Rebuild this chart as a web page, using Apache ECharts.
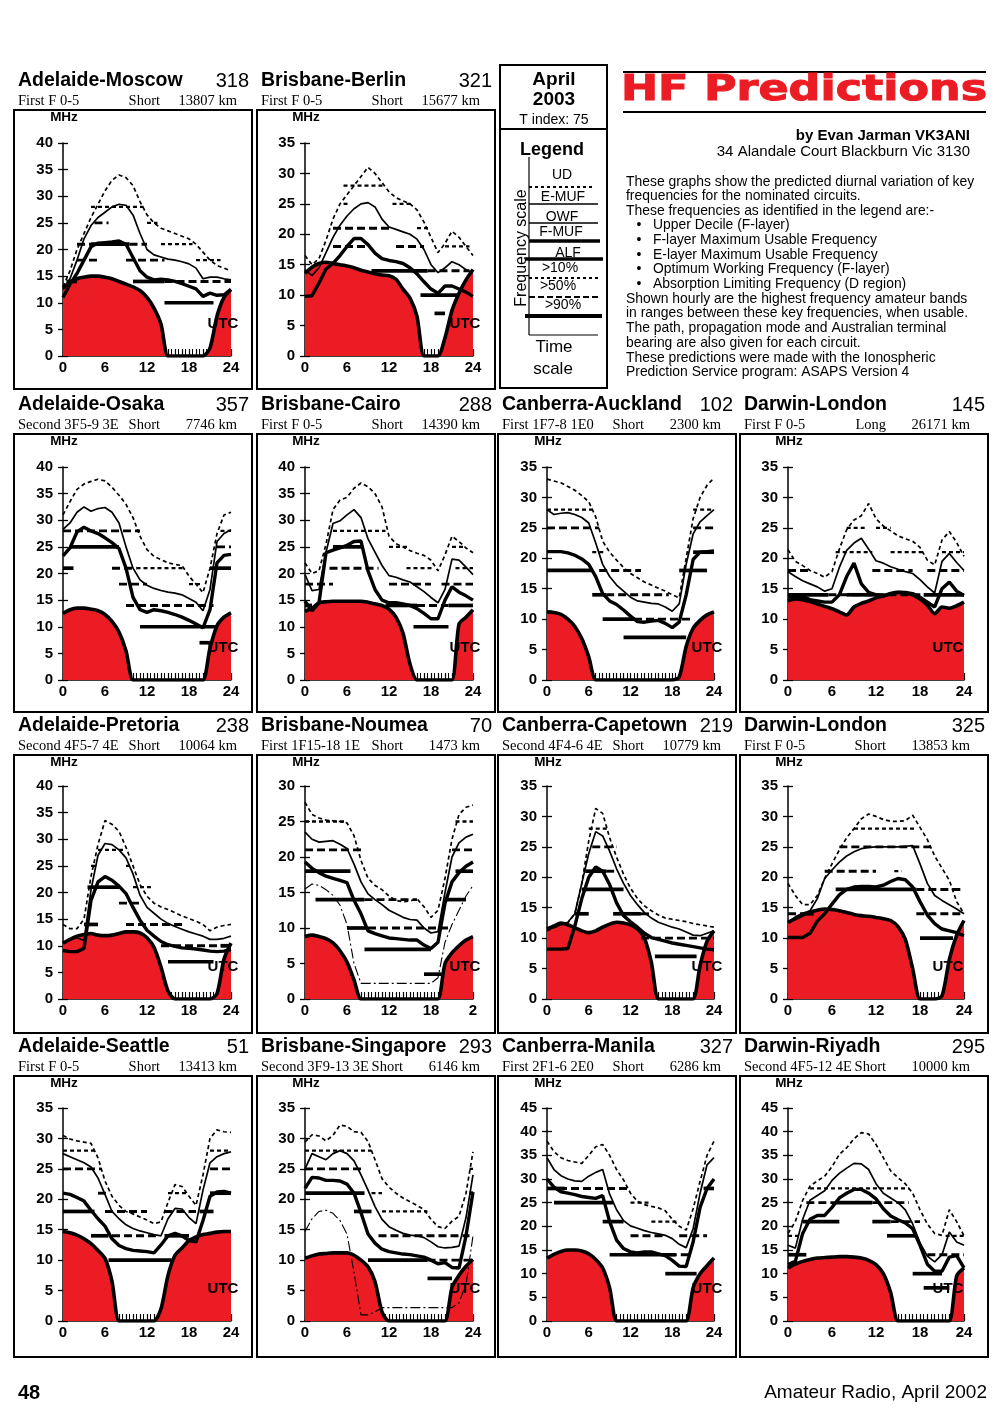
<!DOCTYPE html>
<html>
<head>
<meta charset="utf-8">
<script src="https://cdn.jsdelivr.net/npm/echarts@6/dist/echarts.min.js"></script>
<style>
html, body { margin: 0; padding: 0; background: #fff; }
#page { width: 1000px; height: 1410px; }
</style>
</head>
<body>
<div id="page"></div>
<script>
// hours of the day (UTC)
var hours = [0,1,2,3,4,5,6,7,8,9,10,11,12,13,14,15,16,17,18,19,20,21,22,23,24];

// band runs are [fromHour, toHour, MHz]

// Adelaide-Moscow
var amUD  = [13,16,20,23,26,28.5,31,33,34,33.5,32,29,26.5,25,24,23.5,23,22.5,22,21,19.5,18,17,16.5,16];
var amMUF = [12.5,14.5,18,22,24.5,26,27,28,28.5,28.3,26.5,23,20,19,18.6,18.2,18,17.7,17.3,16.5,14.5,14.8,14.8,14.5,14.3];
var amOWF = [11,13.5,15.5,18,20.5,21.2,21.3,21.4,21.6,21,18.5,16,14.8,14.3,14.4,14.3,14,13.6,13.1,12.6,11.2,11.8,11.4,11.5,12.5];
var amALF = [12.8,13.8,14.5,14.8,15,15,14.8,14.5,14,13.5,13,12.3,11,9,6,0,0,0,0,0,0,1.5,7.5,11,12.5];
var amThick = [[0.5,2,14],[4,9.5,21],[10,14.5,14],[14.5,21.5,10]];
var amDash  = [[2,4,21],[9.5,12,21],[2,5,18],[9,14.5,18],[4.5,6.5,25],[14.5,24,14]];
var amDot   = [[4,11.5,28],[12,13.5,25],[14,18.5,21],[19,22.5,18]];

// Brisbane-Berlin
var bbUD  = [16.5,15,16,19,22.5,25,26.5,28,29.5,31,30,28.5,27,26,25.5,25,24,22,19.5,17,18.5,20.5,19.5,18,16.5];
var bbMUF = [14.2,13.2,14.5,17,19.5,21.5,23,24.2,25,25.2,24.5,22.5,21.2,20.8,20.4,20,19.2,17.5,15,13.7,14.5,15.5,15,14.2,13.6];
var bbOWF = [9.8,9.9,12,14.3,15.2,16.5,18,19.3,19.3,18.3,16.9,16,15.7,15.5,15.2,14.5,13.5,12.2,11,10.3,11.5,11.5,11,10.5,9.8];
var bbALF = [13.6,14.6,15.2,15.4,15.2,15,14.8,14.5,14.1,13.8,13.5,13.3,13.2,12.6,11,9.5,6.5,0,0,0,3,7.5,10.3,12.5,14.2];
var bbThick = [[9.5,17.5,14],[16.5,22,10],[18.5,20,7]];
var bbDash  = [[4,12.5,21],[4,9,18],[13,17,18],[17.5,23.5,14]];
var bbDot   = [[5.5,11.5,28],[5.5,6.5,25],[12.5,15.5,25],[16,18,21],[20,23.5,18]];

// Adelaide-Osaka
var aoUD  = [31,33.5,35.8,36.8,37.3,37.7,37.4,36.2,34.7,33,30.5,27,24.5,23.2,22.6,22,21.7,21.5,19.5,18,16.4,21,27.5,31,31.5];
var aoMUF = [28.3,29.5,31.5,32.5,31.7,32.2,32.4,31.5,29.5,25,21,18.8,17.8,17.2,16.8,16.5,16.3,16,15.3,14.6,13,17,26,27.5,28.2];
var aoOWF = [23.3,24.8,27.8,28.7,28,27.5,26.7,25.8,24.7,21,15.5,13.2,12.7,13.2,13,12.7,12.3,11.8,11.2,10.5,9.8,13.2,22,23.4,23.6];
var aoALF = [12.5,13.2,13.5,13.5,13.3,13,12.3,11,9,5.5,0,0,0,0,0,0,0,0,0,0,0,6,10.2,11.8,12.6];
var aoThick = [[0,1.5,21],[1,8,25],[11,22,10],[19.5,21,7],[21,24,21]];
var aoDash  = [[0,11,28],[7,10.5,21],[8,12,18],[9,21.5,14],[22,24,25]];
var aoDot   = [[10.5,17.5,21],[18,20,18],[22.5,24,28]];

// Brisbane-Cairo
var bcUD  = [22,20,20.5,25.5,32,33.8,34.3,36,37,36.3,35,32.5,27,25.6,25,24.3,23.8,23.4,22.5,20.5,23.5,27,26,24.8,23.9];
var bcMUF = [19.8,16.8,17,24,29.4,29.9,31,32,30.5,26.5,24,21.5,19.6,19.3,18.8,18.4,17.5,16.6,15.5,14.5,17,22.7,22.5,21.2,19.8];
var bcOWF = [14.8,13,14.5,23.9,24.4,24.8,25.3,26,26.1,20.5,17,15,14.5,14.5,14.3,14,13.4,12.5,11.5,11.5,15,17.5,16.5,15.8,15];
var bcALF = [12.9,13.5,14.5,14.7,14.8,14.8,14.8,14.8,14.8,14.6,14.3,14,13.3,11.8,8.8,3,0,0,0,0,0,0,10.5,11.8,13.2];
var bcThick = [[0,1,14],[4,8,25],[11.5,16,14],[20.5,24,14],[15.5,20.5,10]];
var bcDash  = [[3.5,10.5,21],[0,4,18],[12,18,18],[16,20.5,14],[19.5,24,18]];
var bcDot   = [[4,11.5,28],[12,15,25],[14.5,18.5,21],[21,23,25],[21.5,24,21]];

// Canberra-Auckland
var caUD  = [33,32.7,32.4,31.8,31.2,30.3,29.3,26.8,22.8,21,19.7,18.5,17.5,16.8,16.1,15.6,15.1,14.6,14,13.5,20,26.5,30,32,33.2];
var caMUF = [28,27.2,27.4,27.5,27.2,26.7,25.8,22.5,19,17,15.6,14.6,13.6,13,12.8,12.6,12.5,12,11.3,12.5,19,24,26,27,28];
var caOWF = [21.1,21.1,21.1,20.9,20.5,19.9,19,17,14.2,13,12.4,11.5,10.5,9.6,9.5,9.7,9.8,9.3,8.6,9.5,14,19.8,21,21.1,21.2];
var caALF = [11.2,11.1,10.8,10,8.8,6.8,3.8,0,0,0,0,0,0,0,0,0,0,0,0,0.5,5.5,8.5,9.8,10.7,11.2];
var caThick = [[0,6.5,18],[6.5,8.5,14],[8,12.5,10],[11,20,7],[19,23,18],[21,24,21]];
var caDash  = [[0,7.5,25],[7.5,13.5,18],[8.5,17.5,14],[12.5,21,10],[21,24,25]];
var caDot   = [[0,7,28],[6.5,8.5,21],[21,24,28]];

// Darwin-London (long path)
var dlUD  = [21.4,19.5,18.8,18,17.5,16.9,17.8,21.5,24.7,26.3,27,29,26.5,25.3,24.5,23.7,23.2,22.8,21.8,19.7,18.9,23,24.4,22.6,20.3];
var dlMUF = [17.8,17,16.3,15.8,15.3,14.6,15,18.5,21.3,22.5,23.3,21.5,19.6,19.2,18.6,18.2,17.8,17.5,16.5,15.3,14.3,19.5,20.8,19.3,18];
var dlOWF = [13.6,13.8,13.7,13.2,13,12.8,12.8,14,17,19.2,15.8,14.4,14,13.9,14.1,14.4,14.4,14.2,13.6,12.8,12,15,16.1,14.6,13.9];
var dlALF = [13,13.3,13.2,12.9,12.5,12.1,11.7,11.2,10.7,12,12.6,13,13.5,13.8,14.2,14.4,14.3,14,13.3,12.3,10.9,12,11.8,12.2,12.8];
var dlThick = [[0,5.5,14],[8,12,14],[18.5,24,14]];
var dlDash  = [[5.5,18.5,14],[11.5,17,18],[19,24,18],[0,3,18]];
var dlDot   = [[8,10.5,25],[6.5,11.5,21],[14,18.5,21],[21,24,21],[12,14,25]];

// Adelaide-Pretoria
var apUD  = [14,13.2,13.2,15,23,29,33.5,32.8,31.5,28.5,25,21.5,19.3,18,17.3,16.8,16.2,15.6,15.1,14.6,14,12.8,13.5,13.8,14];
var apMUF = [10.5,11.1,11.5,11,20.5,27,29.2,29,28,26.5,23.5,19.5,17.2,16.1,15,14.2,13.6,13.1,12.6,12.2,11.8,11.2,11.2,11.4,11.8];
var apOWF = [9.1,8.9,8.9,9.5,18.5,22,23,22.3,21.2,19.8,17.2,14.8,12.9,11.8,10.8,10.2,9.9,9.6,9.5,9.4,9.2,9,8.9,9,9.3];
var apALF = [10.5,11.2,11.8,12.1,12.3,12,11.9,12,12.3,12.6,12.6,12.4,11.5,9.7,6,1.5,0,0,0,0,0,0,1,7.5,10.5];
var apThick = [[3.5,8,21],[3,5,14],[15,21.5,7],[22.5,24,10]];
var apDash  = [[8,11,18],[9,17,14],[14,24,10]];
var apDot   = [[5,9,28],[4,5,25],[9,10,25],[10,13,21]];

// Brisbane-Noumea
var bnUD   = [27.7,26,25.5,25.2,25.1,25,24.8,23,19.5,17,16,15.4,14.5,13.9,13.7,13.8,14.1,13,11.5,12.5,17,22.5,26,27,27.3];
var bnMUF  = [23.5,22.5,22.1,22.2,22.3,21.8,21.2,19,16.5,14.8,14,13.3,12.5,12,11.5,11.2,11.1,10,9.3,9.5,15,20,22,22.8,23.2];
var bnOWF  = [19.3,18.4,17.8,17.3,17,16.7,16.4,13.9,12,9.6,9.2,8.9,8.6,8.5,8.4,8.3,8.3,7.6,7.1,8,13.5,16.5,17.8,18.7,19.3];
var bnEMUF = [15.5,16.2,16,15.4,14.6,13.2,10.5,5,2.2,2.2,2.2,2.2,2.2,2.2,2.2,2.2,2.2,2.2,2.2,3,8,10.5,12.5,14.5,16];
var bnALF  = [8.8,9,8.8,8.5,7.9,6.8,5.2,2.7,0,0,0,0,0,0,0,0,0,0,0,0,5,6.5,7.5,8.3,8.8];
var bnThick = [[0,6.5,18],[1.5,8.5,14],[6,9,10],[8.5,18,7],[17,19.5,3.5],[20,23,14],[21.5,24,18]];
var bnDash  = [[0,8,21],[9,21,10],[8.5,16,14],[21,24,21]];
var bnDot   = [[0,6,25],[21.5,24,25]];

// Canberra-Capetown
var ccUD  = [11.2,11.7,12.2,12.5,14,19,26,31.3,30.5,26.5,23.3,20.5,18.2,16.5,15.3,14.5,13.8,13.3,13.1,12.9,12.7,12.4,12.2,12,11.8];
var ccMUF = [11.3,11.8,12.2,12.6,14,19,23.9,27.5,26.8,24.3,21.4,19,17,15.5,14.2,13.3,12.6,12.2,11.8,11.5,11,10.5,10.4,10.8,11.2];
var ccOWF = [8.2,8.2,8.2,8.3,12,16.5,20,21.7,21,18.8,15.8,13.7,12.7,11.8,10.8,10.1,9.8,9.5,9.2,9,8.8,8.6,8.4,8.2,8.1];
var ccALF = [11.5,12,12.5,12.2,11.7,11.2,10.9,11.2,11.8,12.3,12.6,12.5,12.2,11.5,10,6,0,0,0,0,0,0,5.5,9.5,11.2];
var ccThick = [[5.5,8.5,21],[5,11,18],[4,6,14],[9.5,13.5,14],[15.5,21.5,7]];
var ccDash  = [[6.5,10,25],[8.5,10,21],[13.5,15,14],[13.5,24,10]];
var ccDot   = [[6,9,28]];

// Darwin-London (short path)
var dsUD  = [19,17,15.5,15.5,17,19.8,22.2,24.5,26.5,28,29.6,30.4,30,29.5,29.2,29.2,29.3,30.2,28.2,26.2,23.5,21.5,19.5,16,14];
var dsMUF = [12.6,13.5,14.1,14.5,16.5,19.8,21.2,22.5,23.5,24.2,24.7,24.9,25,25,25,25,25.1,25.2,22.2,19,17,16.2,15.5,14.8,14];
var dsOWF = [10.1,10.1,10.1,10.8,12.8,14,15.6,17.1,18,18.4,18.5,18.5,18.4,18.7,19.3,19.8,19.6,18.4,16,13.8,12.4,11.5,11.2,10.9,10.4];
var dsALF = [12.6,13.2,13.8,14.3,14.6,14.8,14.7,14.5,14.2,13.9,13.7,13.6,13.4,13.2,12.9,11.9,9.8,5,0,0,0,0.5,6.5,10.5,12.9];
var dsThick = [[6.5,17.5,18],[18,22.5,10],[2.5,3.5,14]];
var dsDash  = [[5,12,21],[7,19.5,25],[17.5,24,18],[17.5,24,14],[0,2.5,14]];
var dsDot   = [[9,17.5,28],[14.5,15.5,21]];

// Adelaide-Seattle
var asUD  = [30.5,29.9,29.6,29.4,29.2,26.8,23,20.5,19,18,17.6,17.1,16.6,16,16.3,19.5,22.4,22.1,20.5,19,24,30,31.4,31.1,31];
var asMUF = [27.5,27,26.5,26,25.3,23.5,20.8,18,16.8,15.8,15.2,14.8,14.5,14.2,14,16.8,18.5,18.4,17,16,21.5,26,27,27.5,27.8];
var asOWF = [21,20.8,20.3,19.7,18.2,16.8,15.6,13.5,12.4,11.9,11.6,11.5,11.4,11.2,12.5,14,14.4,14,13.2,13,16.5,20.5,21.2,21.3,21];
var asALF = [14.7,14.5,14.1,13.5,12.7,11.6,10.3,6.5,0,0,0,0,0,0,2,7.5,10.8,12,13.2,13.8,14.2,14.4,14.6,14.7,14.7];
var asThick = [[0,4.5,18],[4,6.5,14],[6.5,15.5,10],[14.5,18,14],[19.5,21.5,18],[21,24,21]];
var asDash  = [[0,5.5,25],[5,6.5,21],[6,12,18],[7,13.5,14],[14.5,19,18],[21,24,25]];
var asDot   = [[0,4.5,28],[15,18,21],[21,24,28]];

// Brisbane-Singapore
var bsUD   = [29.4,30.6,30.4,29.6,30.5,32.2,32,31.1,31,29.5,26.5,23.4,22,21,20.2,19.6,19,18.3,16.7,15.5,15.2,16.4,17.2,21,27.8];
var bsMUF  = [25,27.5,27,26.5,27.5,28,27.5,26.3,24,21.5,18.8,16.7,15.5,14.9,14.4,14.1,14,13.7,13,12.2,12,12.1,12.3,17,24];
var bsOWF  = [21.8,23.6,23.5,23.1,23.1,23,22.5,21,17.8,14.3,12.8,11.8,11.4,11.2,11,10.9,10.7,10.5,10,9.4,9.6,8.8,8.7,14,21.2];
var bsEMUF = [14.7,16.8,18,18.2,17.7,16.5,14.3,8,1,1,1.5,2.2,2.2,2.2,2.2,2.2,2.2,2.2,2.2,2.2,2.2,2.2,3,6,14];
var bsALF  = [10.3,10.7,11,11.1,11.2,11.2,11.2,10.8,10,8.9,6.5,1.5,0,0,0,0,0,0,0,0,0,5.5,7.5,9,10.1];
var bsThick = [[0,8.5,21],[7,9.5,18],[9,17.5,10],[17.5,21,7],[23.5,24,21]];
var bsDash  = [[0,8,25],[10.5,23.5,14],[17.5,24,10]];
var bsDot   = [[0,9.5,28],[9.5,11,21],[11,17.5,18],[23.5,24,25]];

// Canberra-Manila
var cmUD  = [38,35.8,34.5,33.9,33.6,33.3,35,36.8,37.3,35,32,29.8,27,25.3,24.6,24.2,23.9,23.3,21.5,20,19.2,23.7,29.5,35,38];
var cmMUF = [34.5,32,30.7,30,29.6,29.5,30.6,31.4,32,26.8,23.5,21.2,20.1,19.6,19.1,18.7,18.4,18.1,17.4,16.2,15.5,19.5,27,33,34.5];
var cmOWF = [30,28.3,27.3,27,26.7,26.3,26.1,25.9,26.5,21,17.1,15.3,14.6,14.4,14.6,14.6,14.2,13.8,12.8,11.6,11.5,16.7,24,28,30];
var cmALF = [13.3,14.1,14.7,15,15,14.8,14.2,13,11.2,7,0,0,0,0,0,0,0,0,0,0,0,7,10,11.7,13.3];
var cmThick = [[0,2.5,28],[1,9.5,25],[8,11,21],[9,18.5,14],[17,21.5,10],[22.5,24,28]];
var cmDash  = [[0,12,28],[12,17,18],[19,23,18],[17.5,20.5,14]];
var cmDot   = [[12,15,25],[15,19,21]];

// Darwin-Riyadh
var drUD  = [18.5,21,25.5,28.5,29.6,30.6,32.6,35.2,36.6,38.5,39.8,39.5,37.3,34.5,31.7,30.3,29,27,23.5,20.5,18.5,18.1,23.5,21,18];
var drMUF = [16,15.4,21.5,25.5,26.5,27.5,29.7,31.2,32.3,33.3,33.2,32,29,27,26,25,23.5,20.5,16.5,13.7,12.5,14,18.8,16.7,16];
var drOWF = [11.9,12.6,18.5,21.5,22.3,22.3,24,26,27,27.8,27.8,27,25.8,23.7,22.2,21.4,20.7,19.5,16,12,10.5,10.5,13.5,13.8,11.2];
var drALF = [11.2,12,12.6,13,13.3,13.4,13.5,13.6,13.6,13.5,13.3,12.8,11.9,10,6,0,0,0,0,0,0,0,0,9.5,11.2];
var drThick = [[0,2.5,14],[2,7,21],[6.5,11.5,25],[11.5,14,21],[13.5,17.5,18],[17,21,10],[18.5,22,7]];
var drDash  = [[2.5,6.5,25],[11.5,16.5,25],[14,18,21],[19,24,14]];
var drDot   = [[3,16.5,28],[0,1.5,18],[21.5,24,18]];

var panels = [
  {name:'Adelaide-Moscow', brg:'318', mode:'First F 0-5', path:'Short', dist:'13807 km', row:0, col:0, ymax:40, ud:amUD, muf:amMUF, owf:amOWF, alf:amALF, thick:amThick, dash:amDash, dot:amDot},
  {name:'Brisbane-Berlin', brg:'321', mode:'First F 0-5', path:'Short', dist:'15677 km', row:0, col:1, ymax:35, ud:bbUD, muf:bbMUF, owf:bbOWF, alf:bbALF, thick:bbThick, dash:bbDash, dot:bbDot},
  {name:'Adelaide-Osaka', brg:'357', mode:'Second 3F5-9 3E', path:'Short', dist:'7746 km', row:1, col:0, ymax:40, ud:aoUD, muf:aoMUF, owf:aoOWF, alf:aoALF, thick:aoThick, dash:aoDash, dot:aoDot},
  {name:'Brisbane-Cairo', brg:'288', mode:'First F 0-5', path:'Short', dist:'14390 km', row:1, col:1, ymax:40, ud:bcUD, muf:bcMUF, owf:bcOWF, alf:bcALF, thick:bcThick, dash:bcDash, dot:bcDot},
  {name:'Canberra-Auckland', brg:'102', mode:'First 1F7-8 1E0', path:'Short', dist:'2300 km', row:1, col:2, ymax:35, ud:caUD, muf:caMUF, owf:caOWF, alf:caALF, thick:caThick, dash:caDash, dot:caDot},
  {name:'Darwin-London', brg:'145', mode:'First F 0-5', path:'Long', dist:'26171 km', row:1, col:3, ymax:35, ud:dlUD, muf:dlMUF, owf:dlOWF, alf:dlALF, thick:dlThick, dash:dlDash, dot:dlDot},
  {name:'Adelaide-Pretoria', brg:'238', mode:'Second 4F5-7 4E', path:'Short', dist:'10064 km', row:2, col:0, ymax:40, ud:apUD, muf:apMUF, owf:apOWF, alf:apALF, thick:apThick, dash:apDash, dot:apDot},
  {name:'Brisbane-Noumea', brg:'70', mode:'First 1F15-18 1E', path:'Short', dist:'1473 km', row:2, col:1, ymax:30, ud:bnUD, muf:bnMUF, owf:bnOWF, emuf:bnEMUF, alf:bnALF, thick:bnThick, dash:bnDash, dot:bnDot, lastLabel:'2'},
  {name:'Canberra-Capetown', brg:'219', mode:'Second 4F4-6 4E', path:'Short', dist:'10779 km', row:2, col:2, ymax:35, ud:ccUD, muf:ccMUF, owf:ccOWF, alf:ccALF, thick:ccThick, dash:ccDash, dot:ccDot},
  {name:'Darwin-London', brg:'325', mode:'First F 0-5', path:'Short', dist:'13853 km', row:2, col:3, ymax:35, ud:dsUD, muf:dsMUF, owf:dsOWF, alf:dsALF, thick:dsThick, dash:dsDash, dot:dsDot},
  {name:'Adelaide-Seattle', brg:'51', mode:'First F 0-5', path:'Short', dist:'13413 km', row:3, col:0, ymax:35, ud:asUD, muf:asMUF, owf:asOWF, alf:asALF, thick:asThick, dash:asDash, dot:asDot},
  {name:'Brisbane-Singapore', brg:'293', mode:'Second 3F9-13 3E', path:'Short', dist:'6146 km', row:3, col:1, ymax:35, ud:bsUD, muf:bsMUF, owf:bsOWF, emuf:bsEMUF, alf:bsALF, thick:bsThick, dash:bsDash, dot:bsDot},
  {name:'Canberra-Manila', brg:'327', mode:'First 2F1-6 2E0', path:'Short', dist:'6286 km', row:3, col:2, ymax:45, ud:cmUD, muf:cmMUF, owf:cmOWF, alf:cmALF, thick:cmThick, dash:cmDash, dot:cmDot},
  {name:'Darwin-Riyadh', brg:'295', mode:'Second 4F5-12 4E', path:'Short', dist:'10000 km', row:3, col:3, ymax:45, ud:drUD, muf:drMUF, owf:drOWF, alf:drALF, thick:drThick, dash:drDash, dot:drDot}
];

// page layout
var colBox  = [[14,252],[257,495],[498,736],[740,988]];
var colGrid = [[63,168],[305,168],[547,167],[788,176]];
var rowBox  = [[110,389],[434,712],[755,1033],[1076,1357]];
var rowGridTop = [143,467,786,1108];
var gridH = 213;

var RED = '#ec1c24';
var SANS = 'Liberation Sans, Arial, sans-serif';
var SERIF = 'Liberation Serif, Times New Roman, serif';
var NARROW = 'Liberation Sans Narrow, Liberation Sans, sans-serif';

function pairs(arr) {
    return hours.map(function (h, i) { return [h, arr[i]]; });
}

function bandSeries(idx, runs, w, dash) {
    return {
        type: 'custom',
        xAxisIndex: idx,
        yAxisIndex: idx,
        z: 3,
        silent: true,
        encode: {x: [0, 1], y: 2},
        data: runs,
        renderItem: function (params, api) {
            var a = api.coord([api.value(0), api.value(2)]);
            var b = api.coord([api.value(1), api.value(2)]);
            return {
                type: 'line',
                shape: {x1: a[0], y1: a[1], x2: b[0], y2: b[1]},
                style: {stroke: '#000', lineWidth: w, lineDash: dash}
            };
        }
    };
}

function lineSeries(idx, arr, w, type, z) {
    return {
        type: 'line',
        xAxisIndex: idx,
        yAxisIndex: idx,
        data: pairs(arr),
        symbol: 'none',
        z: z,
        silent: true,
        lineStyle: {color: '#000', width: w, type: type}
    };
}

var grids = [], xAxes = [], yAxes = [], series = [], gfx = [];
var tickAxes = [];

panels.forEach(function (p, i) {
    var g = colGrid[p.col], bx = colBox[p.col], by = rowBox[p.row];
    grids.push({left: g[0], top: rowGridTop[p.row], width: g[1], height: gridH});

    xAxes.push({
        gridIndex: i, type: 'value', min: 0, max: 24, interval: 1,
        axisLine: {lineStyle: {color: '#000', width: 1.5}},
        axisTick: {inside: true, length: 7, lineStyle: {color: '#000', width: 1.2}},
        minorTick: {show: true, splitNumber: 2, length: 7, lineStyle: {color: '#000', width: 1}},
        splitLine: {show: false},
        axisLabel: {
            margin: 4, fontSize: 15, color: '#000', fontFamily: SANS, fontWeight: 'bold',
            formatter: function (v) {
                if (v % 6 !== 0) return '';
                if (v === 24 && p.lastLabel) return p.lastLabel;
                return String(v);
            }
        }
    });
    yAxes.push({
        gridIndex: i, type: 'value', position: 'left', min: 0, max: p.ymax, interval: 5,
        axisLine: {show: true, lineStyle: {color: '#000', width: 1.5}},
        axisTick: {show: true, length: 5, lineStyle: {color: '#000', width: 1.3}},
        splitLine: {show: false},
        axisLabel: {margin: 10, fontSize: 15, fontWeight: 'bold', color: '#000', fontFamily: SANS}
    });
    // second copy of the frequency axis: ticks on the inner side, so they cross the line
    tickAxes.push({
        gridIndex: i, type: 'value', position: 'left', offset: 0, min: 0, max: p.ymax, interval: 5,
        axisLine: {show: false, onZero: false},
        axisTick: {show: true, inside: true, length: 5, lineStyle: {color: '#000', width: 1.3}},
        splitLine: {show: false},
        axisLabel: {show: false}
    });

    // absorption limiting frequency: red area with heavy outline
    series.push({
        type: 'line', xAxisIndex: i, yAxisIndex: i, data: pairs(p.alf),
        symbol: 'none', smooth: 0.25, z: 2, silent: true,
        lineStyle: {color: '#000', width: 3.6},
        areaStyle: {color: RED, opacity: 1}
    });
    series.push(bandSeries(i, p.dot, 2.3, [4, 3]));
    series.push(bandSeries(i, p.dash, 2.9, [8, 4]));
    series.push(bandSeries(i, p.thick, 3.7, null));
    if (p.emuf) series.push(lineSeries(i, p.emuf, 1.1, [10, 3, 2, 3], 4));
    series.push(lineSeries(i, p.ud, 1.7, [4, 3], 4));
    series.push(lineSeries(i, p.muf, 1.7, 'solid', 4));
    series.push(lineSeries(i, p.owf, 3.4, 'solid', 5));

    // panel frame and captions
    gfx.push({type: 'rect', shape: {x: bx[0], y: by[0], width: bx[1] - bx[0], height: by[1] - by[0]},
        style: {fill: 'transparent', stroke: '#000', lineWidth: 2}, z: 1});
    gfx.push({type: 'text', style: {text: p.name, x: bx[0] + 4, y: by[0] - 29, textVerticalAlign: 'middle',
        font: 'bold 19.5px ' + SANS, fill: '#000'}});
    gfx.push({type: 'text', style: {text: p.brg, x: bx[1] - 3, y: by[0] - 29, textAlign: 'right', textVerticalAlign: 'middle',
        font: '20px ' + NARROW, fill: '#000'}});
    gfx.push({type: 'text', style: {text: p.mode, x: bx[0] + 4, y: by[0] - 9, textVerticalAlign: 'middle',
        font: '14.5px ' + SERIF, fill: '#000'}});
    gfx.push({type: 'text', style: {text: p.path, x: bx[0] + 146, y: by[0] - 9, textAlign: 'right', textVerticalAlign: 'middle',
        font: '14.5px ' + SERIF, fill: '#000'}});
    gfx.push({type: 'text', style: {text: p.dist, x: bx[1] - (p.col === 3 ? 18 : 15), y: by[0] - 9, textAlign: 'right', textVerticalAlign: 'middle',
        font: '14.5px ' + SERIF, fill: '#000'}});
    gfx.push({type: 'text', style: {text: 'MHz', x: g[0] + 1, y: by[0] + 7, textAlign: 'center', textVerticalAlign: 'middle',
        font: 'bold 13.5px ' + SANS, fill: '#000'}});
    gfx.push({type: 'text', z: 10, style: {text: 'UTC', x: g[0] + 160, y: rowGridTop[p.row] + 181, textAlign: 'center', textVerticalAlign: 'middle',
        font: 'bold 15px ' + SANS, fill: '#000'}});
});

// date / legend box
function gtext(t, x, y, font, align, fill) {
    gfx.push({type: 'text', style: {text: t, x: x, y: y, textAlign: align || 'left', textVerticalAlign: 'middle',
        font: font, fill: fill || '#000'}});
}
function gline(x1, y1, x2, y2, w, dash) {
    gfx.push({type: 'line', shape: {x1: x1, y1: y1, x2: x2, y2: y2},
        style: {stroke: '#000', lineWidth: w, lineDash: dash || null}});
}
gfx.push({type: 'rect', shape: {x: 500, y: 65, width: 107, height: 323},
    style: {fill: 'transparent', stroke: '#000', lineWidth: 2}});
gline(500, 129, 607, 129, 2);
gtext('April', 554, 80, 'bold 19px ' + SANS, 'center');
gtext('2003', 554, 100, 'bold 19px ' + SANS, 'center');
gtext('T index: 75', 554, 120, '14px ' + SANS, 'center');
gtext('Legend', 552, 150, 'bold 18px ' + SANS, 'center');
gline(529, 157, 529, 335, 1.2);
gline(529, 335, 598, 335, 1.2);
gfx.push({type: 'text', x: 522, y: 248, rotation: Math.PI / 2,
    style: {text: 'Frequency scale', x: 0, y: 0, textAlign: 'center', textVerticalAlign: 'middle', font: '16px ' + SANS, fill: '#000'}});
gtext('UD', 562, 175, '14px ' + SANS, 'center');
gline(529, 187, 593, 187, 2, [3, 3]);
gtext('E-MUF', 563, 197, '14px ' + SANS, 'center');
gline(529, 204, 598, 204, 1.5);
gtext('OWF', 562, 217, '14px ' + SANS, 'center');
gline(529, 223, 598, 223, 1.5);
gtext('F-MUF', 561, 232, '14px ' + SANS, 'center');
gline(529, 241, 600, 241, 3.5);
gtext('ALF', 568, 253, '14px ' + SANS, 'center');
gline(525, 259, 603, 259, 3.5);
gtext('>10%', 560, 268, '14px ' + SANS, 'center');
gline(529, 278, 600, 278, 2, [3, 3]);
gtext('>50%', 558, 286, '14px ' + SANS, 'center');
gline(529, 297, 600, 297, 2.2, [6, 3]);
gtext('>90%', 563, 305, '14px ' + SANS, 'center');
gline(525, 316, 602, 316, 3.8);
gtext('Time', 554, 347, '17px ' + SANS, 'center');
gtext('scale', 553, 369, '17px ' + SANS, 'center');

// heading block
gline(623, 72, 986, 72, 2);
gline(623, 112, 986, 112, 2);
gfx.push({type: 'text', x: 804, y: 91, scaleX: 1.27,
    style: {text: 'HF Predictions', x: 0, y: 0, textAlign: 'center', textVerticalAlign: 'middle',
        font: 'bold 35px DejaVu Sans, sans-serif', fill: RED, stroke: RED, lineWidth: 1}});
gtext('by Evan Jarman VK3ANI', 970, 136, 'bold 15px ' + SANS, 'right');
gtext('34 Alandale Court Blackburn Vic 3130', 970, 152, '15px ' + SANS, 'right');

var para = [
    ['These graphs show the predicted diurnal variation of key', 182, 0],
    ['frequencies for the nominated circuits.', 196, 0],
    ['These frequencies as identified in the legend are:-', 211, 0],
    ['Upper Decile (F-layer)', 225, 1],
    ['F-layer Maximum Usable Frequency', 240, 1],
    ['E-layer Maximum Usable Frequency', 255, 1],
    ['Optimum Working Frequency (F-layer)', 269, 1],
    ['Absorption Limiting Frequency (D region)', 284, 1],
    ['Shown hourly are the highest frequency amateur bands', 299, 0],
    ['in ranges between these key frequencies, when usable.', 313, 0],
    ['The path, propagation mode and Australian terminal', 328, 0],
    ['bearing are also given for each circuit.', 343, 0],
    ['These predictions were made with the Ionospheric', 358, 0],
    ['Prediction Service program: ASAPS Version 4', 372, 0]
];
para.forEach(function (l) {
    if (l[2]) {
        gtext('\u2022', 639, l[1], '14px ' + SANS, 'center');
        gtext(l[0], 653, l[1], '13.9px ' + SANS);
    } else {
        gtext(l[0], 626, l[1], '13.9px ' + SANS);
    }
});

// footer
gtext('48', 18, 1393, 'bold 20px ' + SANS);
gtext('Amateur Radio, April 2002', 987, 1393, '19px ' + SANS, 'right');

var chart = echarts.init(document.getElementById('page'), null, {renderer: 'canvas'});
chart.setOption({
    backgroundColor: '#fff',
    animation: false,
    grid: grids,
    xAxis: xAxes,
    yAxis: yAxes.concat(tickAxes),
    series: series,
    graphic: {elements: gfx}
});
</script>
</body>
</html>
